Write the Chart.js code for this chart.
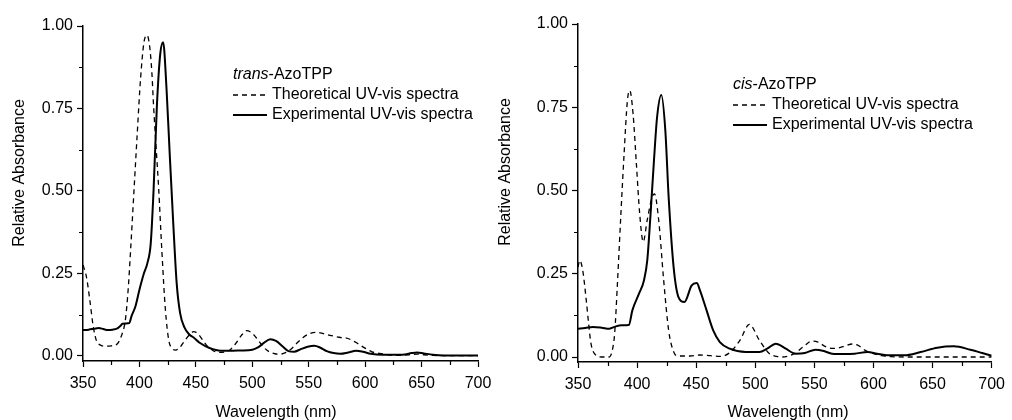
<!DOCTYPE html>
<html>
<head>
    <meta charset='UTF-8'>
    <script src="https://cdn.jsdelivr.net/npm/chart.js"></script>
    <style>
        body { margin: 0; background: #fff; }
        canvas { position: absolute; top: 0; }
    </style>
</head>
<title>AzoTPP UV-vis spectra</title>

<body>
    <canvas id="transChart" width="505" height="420" style="left:0px"></canvas>
    <canvas id="cisChart" width="522" height="420" style="left:490px"></canvas>
    <script>
        // tick values
        const xTicks = [350, 400, 450, 500, 550, 600, 650, 700];
        const xMinor = [375, 425, 475, 525, 575, 625, 675];
        const yTicks = [0, 0.25, 0.5, 0.75, 1.0];
        const yMinor = [0.125, 0.375, 0.625, 0.875];

        // trans-AzoTPP, theoretical
        const transTheoWl = [350, 353, 356, 359, 362, 365, 370, 375, 380, 384, 387.6, 390, 392, 395, 398, 401, 404, 406.7,
            409, 411, 412.5, 415, 417, 420, 423, 426, 429, 432, 436, 440, 444, 448, 452, 456, 460, 465, 471, 476,
            481, 486, 490, 495, 500, 505, 510, 515, 520, 525, 530, 535, 540, 545, 550, 557, 563, 570, 577, 584,
            591, 598, 606, 613, 620, 630, 640, 646, 652, 660, 670, 685, 700];
        const transTheoAbs = [0.275, 0.24, 0.17, 0.09, 0.045, 0.033, 0.029, 0.03, 0.035, 0.06, 0.11, 0.2, 0.31, 0.49, 0.67, 0.84,
            0.95, 0.972, 0.94, 0.86, 0.76, 0.62, 0.51, 0.31, 0.14, 0.047, 0.022, 0.017, 0.026, 0.045, 0.062, 0.073,
            0.066, 0.048, 0.03, 0.016, 0.01, 0.012, 0.02, 0.04, 0.06, 0.076, 0.068, 0.048, 0.026, 0.012, 0.006,
            0.005, 0.01, 0.022, 0.04, 0.055, 0.066, 0.071, 0.067, 0.061, 0.056, 0.053, 0.042, 0.027, 0.012, 0.007,
            0.003, 0.001, 0.003, 0.005, 0.003, 0.001, 0, 0, 0];

        // trans-AzoTPP, experimental
        const transExpWl = [350, 355, 360, 364, 368, 372, 376, 380, 383, 385, 388, 391, 393, 396.5, 400, 404, 407, 410,
            412.5, 415.5, 418.5, 421, 424, 427, 430, 433, 436, 440, 444, 448, 453, 458, 465, 470, 480, 490, 500,
            505, 510, 516, 521, 527, 532, 537, 543, 549, 555, 560, 566, 572, 578, 585, 592, 598, 605, 615, 625,
            635, 641, 646, 652, 660, 670, 685, 700];
        const transExpAbs = [0.078, 0.079, 0.082, 0.084, 0.081, 0.078, 0.079, 0.082, 0.09, 0.097, 0.098, 0.099, 0.12, 0.15, 0.2,
            0.25, 0.28, 0.34, 0.5, 0.76, 0.917, 0.951, 0.81, 0.6, 0.4, 0.22, 0.13, 0.085, 0.065, 0.055, 0.04,
            0.03, 0.02, 0.016, 0.015, 0.016, 0.018, 0.025, 0.038, 0.05, 0.045, 0.028, 0.014, 0.012, 0.02, 0.027,
            0.03, 0.025, 0.014, 0.008, 0.006, 0.01, 0.015, 0.012, 0.006, 0.003, 0.003, 0.004, 0.008, 0.01, 0.007,
            0.003, 0.001, 0.001, 0.001];

        // cis-AzoTPP, theoretical
        const cisTheoWl = [350, 351.5, 354, 357, 359, 361, 365, 370, 376.5, 379, 381, 383.5, 386.3, 389, 391.8, 393.8,
            396.6, 399.4, 402.2, 405.2, 408.5, 412.7, 414.7, 418.3, 422.5, 426.7, 431, 435, 445, 453, 462, 470,
            478, 487, 495, 503.5, 512, 518, 523, 528, 534, 541, 548, 553, 559, 565, 570, 576, 582, 587, 593, 600,
            607, 615, 630, 660, 700];
        const cisTheoAbs = [0.27, 0.29, 0.26, 0.17, 0.1, 0.04, 0.006, 0, 0, 0.02, 0.07, 0.23, 0.43, 0.61, 0.77, 0.8,
            0.73, 0.58, 0.43, 0.346, 0.41, 0.48, 0.49, 0.41, 0.23, 0.08, 0.015, 0.003, 0.003, 0.006, 0.004, 0.002,
            0.012, 0.05, 0.098, 0.05, 0.01, 0.002, 0, 0.003, 0.012, 0.032, 0.048, 0.045, 0.032, 0.026, 0.027, 0.033,
            0.039, 0.035, 0.02, 0.01, 0.004, 0.001, 0, 0, 0];

        // cis-AzoTPP, experimental
        const cisExpWl = [350, 356, 362.6, 370, 376.5, 382, 387, 393, 396, 401.6, 405.8, 408.6, 411.4, 414.1, 416.9, 420.5,
            423.9, 426.7, 430.9, 435, 440, 446.2, 450.5, 453.2, 458.8, 464.4, 470, 478.4, 492, 503.5, 510, 517.4,
            525.8, 534, 542, 550.9, 558, 565, 575, 584, 595, 603, 612, 626, 640, 654, 668, 682, 692, 700];
        const cisExpAbs = [0.085, 0.087, 0.09, 0.088, 0.085, 0.092, 0.095, 0.096, 0.14, 0.19, 0.23, 0.29, 0.43, 0.58, 0.72,
            0.787, 0.68, 0.48, 0.27, 0.18, 0.165, 0.215, 0.222, 0.2, 0.14, 0.08, 0.045, 0.025, 0.015, 0.015,
            0.025, 0.04, 0.025, 0.01, 0.012, 0.022, 0.018, 0.01, 0.009, 0.01, 0.015, 0.01, 0.005, 0.005, 0.015,
            0.028, 0.032, 0.022, 0.012, 0.004];

        const pts = (wl, abs) => wl.map((w, i) => ({ x: w, y: abs[i] }));
        const FONT = '"Liberation Sans", Arial, sans-serif';
        Chart.defaults.font.family = FONT;
        Chart.defaults.color = '#000';

        // minor ticks, axis titles and the in-plot legend
        const deco = {
            id: 'deco',
            afterDraw(chart, args, o) {
                const ctx = chart.ctx;
                const x = chart.scales.x, y = chart.scales.y;
                ctx.save();
                ctx.strokeStyle = '#000';
                ctx.lineWidth = 1.2;
                ctx.beginPath();
                xMinor.forEach(v => {
                    const px = Math.round(x.getPixelForValue(v)) + 0.5;
                    ctx.moveTo(px, y.bottom);
                    ctx.lineTo(px, y.bottom + 4);
                });
                yMinor.forEach(v => {
                    const py = Math.round(y.getPixelForValue(v)) + 0.5;
                    ctx.moveTo(x.left, py);
                    ctx.lineTo(x.left - 4, py);
                });
                ctx.stroke();

                ctx.fillStyle = '#000';
                ctx.textBaseline = 'middle';
                ctx.textAlign = 'center';
                ctx.font = '16px ' + FONT;
                ctx.fillText('Wavelength (nm)', o.xTitle[0], o.xTitle[1]);
                ctx.save();
                ctx.translate(o.yTitle[0], o.yTitle[1]);
                ctx.rotate(-Math.PI / 2);
                ctx.fillText('Relative Absorbance', 0, 0);
                ctx.restore();

                // legend
                const lx = o.legend[0], ly = o.legend[1];
                ctx.textAlign = 'left';
                ctx.font = 'italic 16px ' + FONT;
                ctx.fillText(o.name, lx, ly);
                const w = ctx.measureText(o.name).width;
                ctx.font = '16px ' + FONT;
                ctx.fillText('-AzoTPP', lx + w, ly);
                const rows = [
                    { label: 'Theoretical UV-vis spectra', dash: [5, 4], width: 1.3 },
                    { label: 'Experimental UV-vis spectra', dash: [], width: 2 }
                ];
                rows.forEach((r, i) => {
                    const yy = ly + 20 * (i + 1);
                    ctx.setLineDash(r.dash);
                    ctx.lineWidth = r.width;
                    ctx.beginPath();
                    ctx.moveTo(lx, yy);
                    ctx.lineTo(lx + 34, yy);
                    ctx.stroke();
                    ctx.setLineDash([]);
                    ctx.fillText(r.label, lx + 39, yy);
                });
                ctx.restore();
            }
        };

        function makeChart(id, theo, exp, yMin, box, deco_opts) {
            return new Chart(document.getElementById(id), {
                type: 'line',
                data: {
                    datasets: [
                        {
                            label: 'Theoretical UV-vis spectra',
                            data: theo,
                            borderColor: '#000',
                            borderWidth: 1.3,
                            borderDash: [5, 4],
                            pointRadius: 0,
                            cubicInterpolationMode: 'monotone'
                        },
                        {
                            label: 'Experimental UV-vis spectra',
                            data: exp,
                            borderColor: '#000',
                            borderWidth: 2,
                            pointRadius: 0,
                            cubicInterpolationMode: 'monotone'
                        }
                    ]
                },
                options: {
                    responsive: false,
                    animation: false,
                    devicePixelRatio: 1,
                    layout: { padding: box.padding },
                    plugins: {
                        legend: { display: false },
                        tooltip: { enabled: false },
                        deco: deco_opts
                    },
                    scales: {
                        x: {
                            type: 'linear',
                            min: 350,
                            max: 700,
                            afterBuildTicks: s => { s.ticks = xTicks.map(v => ({ value: v })); },
                            afterFit: s => { s.height = box.xHeight; },
                            grid: { drawOnChartArea: false, tickLength: 6, tickColor: '#000', tickWidth: 1.2 },
                            border: { color: '#000', width: 1.5 },
                            ticks: { color: '#000', font: { size: 16 }, padding: 7, maxRotation: 0, callback: v => v }
                        },
                        y: {
                            min: yMin,
                            max: 1.0,
                            afterBuildTicks: s => { s.ticks = yTicks.map(v => ({ value: v })); },
                            afterFit: s => { s.width = box.yWidth; },
                            grid: { drawOnChartArea: false, tickLength: 6, tickColor: '#000', tickWidth: 1.2 },
                            border: { color: '#000', width: 1.5 },
                            ticks: { color: '#000', font: { size: 16 }, padding: 4, callback: v => v.toFixed(2) }
                        }
                    }
                },
                plugins: [deco]
            });
        }

        makeChart('transChart', pts(transTheoWl, transTheoAbs), pts(transExpWl, transExpAbs), -0.016,
            { padding: { left: 0, top: 26, right: 27, bottom: 0 }, yWidth: 83, xHeight: 59 },
            { name: 'trans', legend: [233, 75], xTitle: [276, 413], yTitle: [20, 173] });

        makeChart('cisChart', pts(cisTheoWl, cisTheoAbs), pts(cisExpWl, cisExpAbs), -0.015,
            { padding: { left: 0, top: 24, right: 15, bottom: 0 }, yWidth: 88, xHeight: 58 },
            { name: 'cis', legend: [243, 85], xTitle: [298, 413], yTitle: [16, 172] });
    </script>
</body>

</html>
